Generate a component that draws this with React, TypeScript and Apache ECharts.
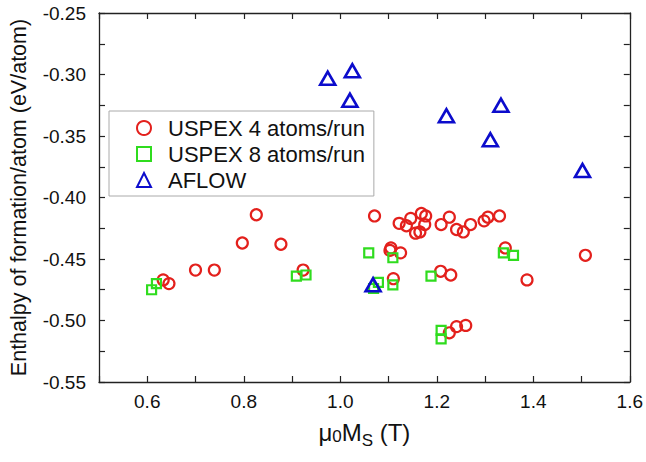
import React, { useEffect, useRef } from "react";
import * as echarts from "echarts";

const uspex4: [number, number][] = [
  [0.633, -0.467], [0.645, -0.47], [0.7, -0.459], [0.739, -0.459],
  [0.797, -0.437], [0.826, -0.414], [0.877, -0.438], [0.923, -0.459],
  [1.071, -0.415], [1.122, -0.421], [1.137, -0.423], [1.146, -0.417],
  [1.156, -0.429], [1.165, -0.428], [1.168, -0.413], [1.177, -0.415],
  [1.175, -0.422], [1.209, -0.422], [1.226, -0.416], [1.241, -0.426],
  [1.255, -0.428], [1.27, -0.422], [1.298, -0.419], [1.306, -0.416],
  [1.33, -0.415], [1.105, -0.441], [1.125, -0.445], [1.103, -0.443],
  [1.342, -0.441], [1.508, -0.447], [1.11, -0.466], [1.208, -0.46],
  [1.229, -0.463], [1.387, -0.467], [1.226, -0.51], [1.241, -0.505],
  [1.26, -0.504],
];

const uspex8: [number, number][] = [
  [0.609, -0.475], [0.619, -0.47], [0.909, -0.464], [0.929, -0.463],
  [1.059, -0.445], [1.109, -0.449], [1.079, -0.469], [1.069, -0.474],
  [1.109, -0.471], [1.188, -0.464], [1.338, -0.445], [1.359, -0.447],
  [1.209, -0.508], [1.209, -0.515],
];

const aflow: [number, number][] = [
  [0.974, -0.303], [1.025, -0.297], [1.02, -0.321], [1.22, -0.3335],
  [1.333, -0.325], [1.311, -0.353], [1.502, -0.378], [1.068, -0.471],
];

const seriesNames = ["USPEX 4 atoms/run", "USPEX 8 atoms/run", "AFLOW"];
const xTickLabels = ["0.6", "0.8", "1.0", "1.2", "1.4", "1.6"];
const yTickLabels = ["-0.25", "-0.30", "-0.35", "-0.40", "-0.45", "-0.50", "-0.55"];

const FONT = "'Liberation Sans', Arial, sans-serif";
const AXIS_COLOR = "#222";

export default function App() {
  const ref = useRef<HTMLDivElement>(null);
  useEffect(() => {
    if (!ref.current) return;
    const chart = echarts.init(ref.current, undefined, { renderer: "svg" });
    const xFmt = (v: number) => {
      const s = v.toFixed(1);
      return xTickLabels.includes(s) ? s : "";
    };
    const yFmt = (v: number) => {
      const s = v.toFixed(2);
      return yTickLabels.includes(s) ? s : "";
    };
    const axisCommon = {
      axisLine: { show: true, onZero: false, lineStyle: { color: AXIS_COLOR, width: 1.3 } },
      axisTick: { show: true, inside: true, length: 6, lineStyle: { color: AXIS_COLOR, width: 1.2 } },
      splitLine: { show: false },
    };
    chart.setOption({
      animation: false,
      backgroundColor: "#fff",
      textStyle: { fontFamily: FONT },
      grid: { left: 95, right: 13, top: 13, bottom: 80, containLabel: false },
      legend: {
        orient: "vertical",
        left: 109,
        top: 111,
        padding: [6, 9, 5, 27],
        itemGap: 4,
        itemWidth: 14,
        itemHeight: 14,
        borderColor: "#aaa",
        borderWidth: 1,
        backgroundColor: "#fff",
        textStyle: { fontSize: 22, color: "#111", fontFamily: FONT, lineHeight: 22, padding: [0, 0, 0, 12] },
        data: seriesNames,
      },
      xAxis: [
        {
          type: "value",
          position: "bottom",
          min: 0.5,
          max: 1.6,
          interval: 0.1,
          ...axisCommon,
          axisLabel: { formatter: xFmt, fontSize: 19, color: "#111", margin: 10, fontFamily: FONT, showMinLabel: true, showMaxLabel: true },
          name: "{a|μ}{z|0}{a|M}{s|S}{a| (T)}",
          nameLocation: "middle",
          nameGap: 35,
          nameTextStyle: {
            fontFamily: FONT,
            rich: {
              a: { fontSize: 24, lineHeight: 28, color: "#111", fontFamily: FONT },
              z: { fontSize: 17, lineHeight: 17, padding: [9, 0, 0, 0], color: "#111", fontFamily: FONT },
              s: { fontSize: 17, lineHeight: 17, padding: [16, 0, 0, 0], color: "#111", fontFamily: FONT },
            },
          },
        },
        {
          type: "value",
          position: "top",
          min: 0.5,
          max: 1.6,
          interval: 0.1,
          ...axisCommon,
          axisLabel: { show: false },
        },
      ],
      yAxis: [
        {
          type: "value",
          position: "left",
          min: -0.55,
          max: -0.25,
          interval: 0.025,
          ...axisCommon,
          axisLabel: { formatter: yFmt, fontSize: 19, color: "#111", margin: 13, fontFamily: FONT },
          name: "Enthalpy of formation/atom (eV/atom)",
          nameLocation: "middle",
          nameRotate: 90,
          nameGap: 69,
          nameTextStyle: { fontSize: 21.5, color: "#111", fontFamily: FONT },
        },
        {
          type: "value",
          position: "right",
          min: -0.55,
          max: -0.25,
          interval: 0.025,
          ...axisCommon,
          axisLabel: { show: false },
        },
      ],
      series: [
        {
          name: seriesNames[0],
          type: "scatter",
          data: uspex4,
          symbol: "circle",
          symbolSize: 11,
          itemStyle: { color: "rgba(255,255,255,0)", borderColor: "#e3201c", borderWidth: 2.2, opacity: 1 },
          z: 2,
        },
        {
          name: seriesNames[1],
          type: "scatter",
          data: uspex8,
          symbol: "rect",
          symbolSize: 9,
          itemStyle: { color: "rgba(255,255,255,0)", borderColor: "#2fdc1e", borderWidth: 2.2, opacity: 1 },
          z: 3,
        },
        {
          name: seriesNames[2],
          type: "scatter",
          data: aflow,
          symbol: "triangle",
          symbolSize: [15, 13],
          itemStyle: { color: "rgba(255,255,255,0)", borderColor: "#0c0ccc", borderWidth: 2.6, opacity: 1 },
          z: 4,
        },
      ],
    });
    return () => chart.dispose();
  }, []);
  return <div ref={ref} style={{ position: "fixed", left: 0, top: 0, width: 646, height: 462 }} />;
}
